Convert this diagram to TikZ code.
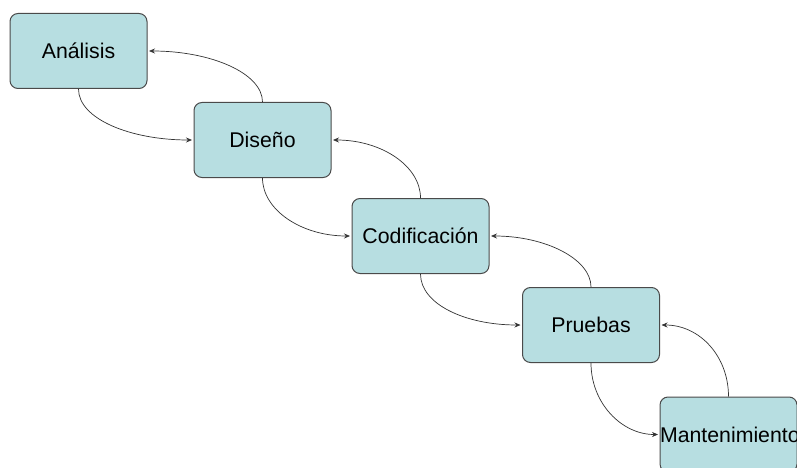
\documentclass[tikz,border=0pt]{standalone}
\usepackage{fontspec}
\setmainfont{Liberation Sans}
\usetikzlibrary{arrows.meta}
\definecolor{boxfill}{HTML}{B7DEE1}
\definecolor{boxline}{HTML}{4A4A4A}
\begin{document}
\begin{tikzpicture}[x=1pt,y=-1pt,
  phase/.style={draw=boxline,fill=boxfill,line width=1pt,rounded corners=8pt,
    minimum width=137pt,minimum height=75pt,inner sep=0pt,
    font=\fontsize{21.3}{24}\selectfont},
  flow/.style={draw=black!80,line width=0.7pt,-{Stealth[length=6pt,width=5pt]},shorten >=1.5pt}]
\useasboundingbox (0,0) rectangle (797,468);
\node[phase] (a) at (78.5,51) {Análisis};
\node[phase] (d) at (262.5,140) {Diseño};
\node[phase] (c) at (420.5,236) {Codificación};
\node[phase] (p) at (591,325) {Pruebas};
\node[phase] (m) at (728.5,434.5) {\makebox[137pt][l]{Mantenimiento}};
% forward path: quarter-ellipse arcs from bottom centre to the next box's left side
\draw[flow] (a.south) .. controls +(0,30) and +(-63,0) .. (d.west);
\draw[flow] (d.south) .. controls +(0,32) and +(-50,0) .. (c.west);
\draw[flow] (c.south) .. controls +(0,30) and +(-57,0) .. (p.west);
\draw[flow] (p.south) .. controls +(0,40) and +(-38,0) .. (m.west);
% feedback path: from top centre back to the previous box's right side
\draw[flow] (d.north) .. controls +(0,-29) and +(63,0) .. (a.east);
\draw[flow] (c.north) .. controls +(0,-32) and +(50,0) .. (d.east);
\draw[flow] (p.north) .. controls +(0,-28) and +(56,0) .. (c.east);
\draw[flow] (m.north) .. controls +(0,-40) and +(40,0) .. (p.east);
\end{tikzpicture}
\end{document}
